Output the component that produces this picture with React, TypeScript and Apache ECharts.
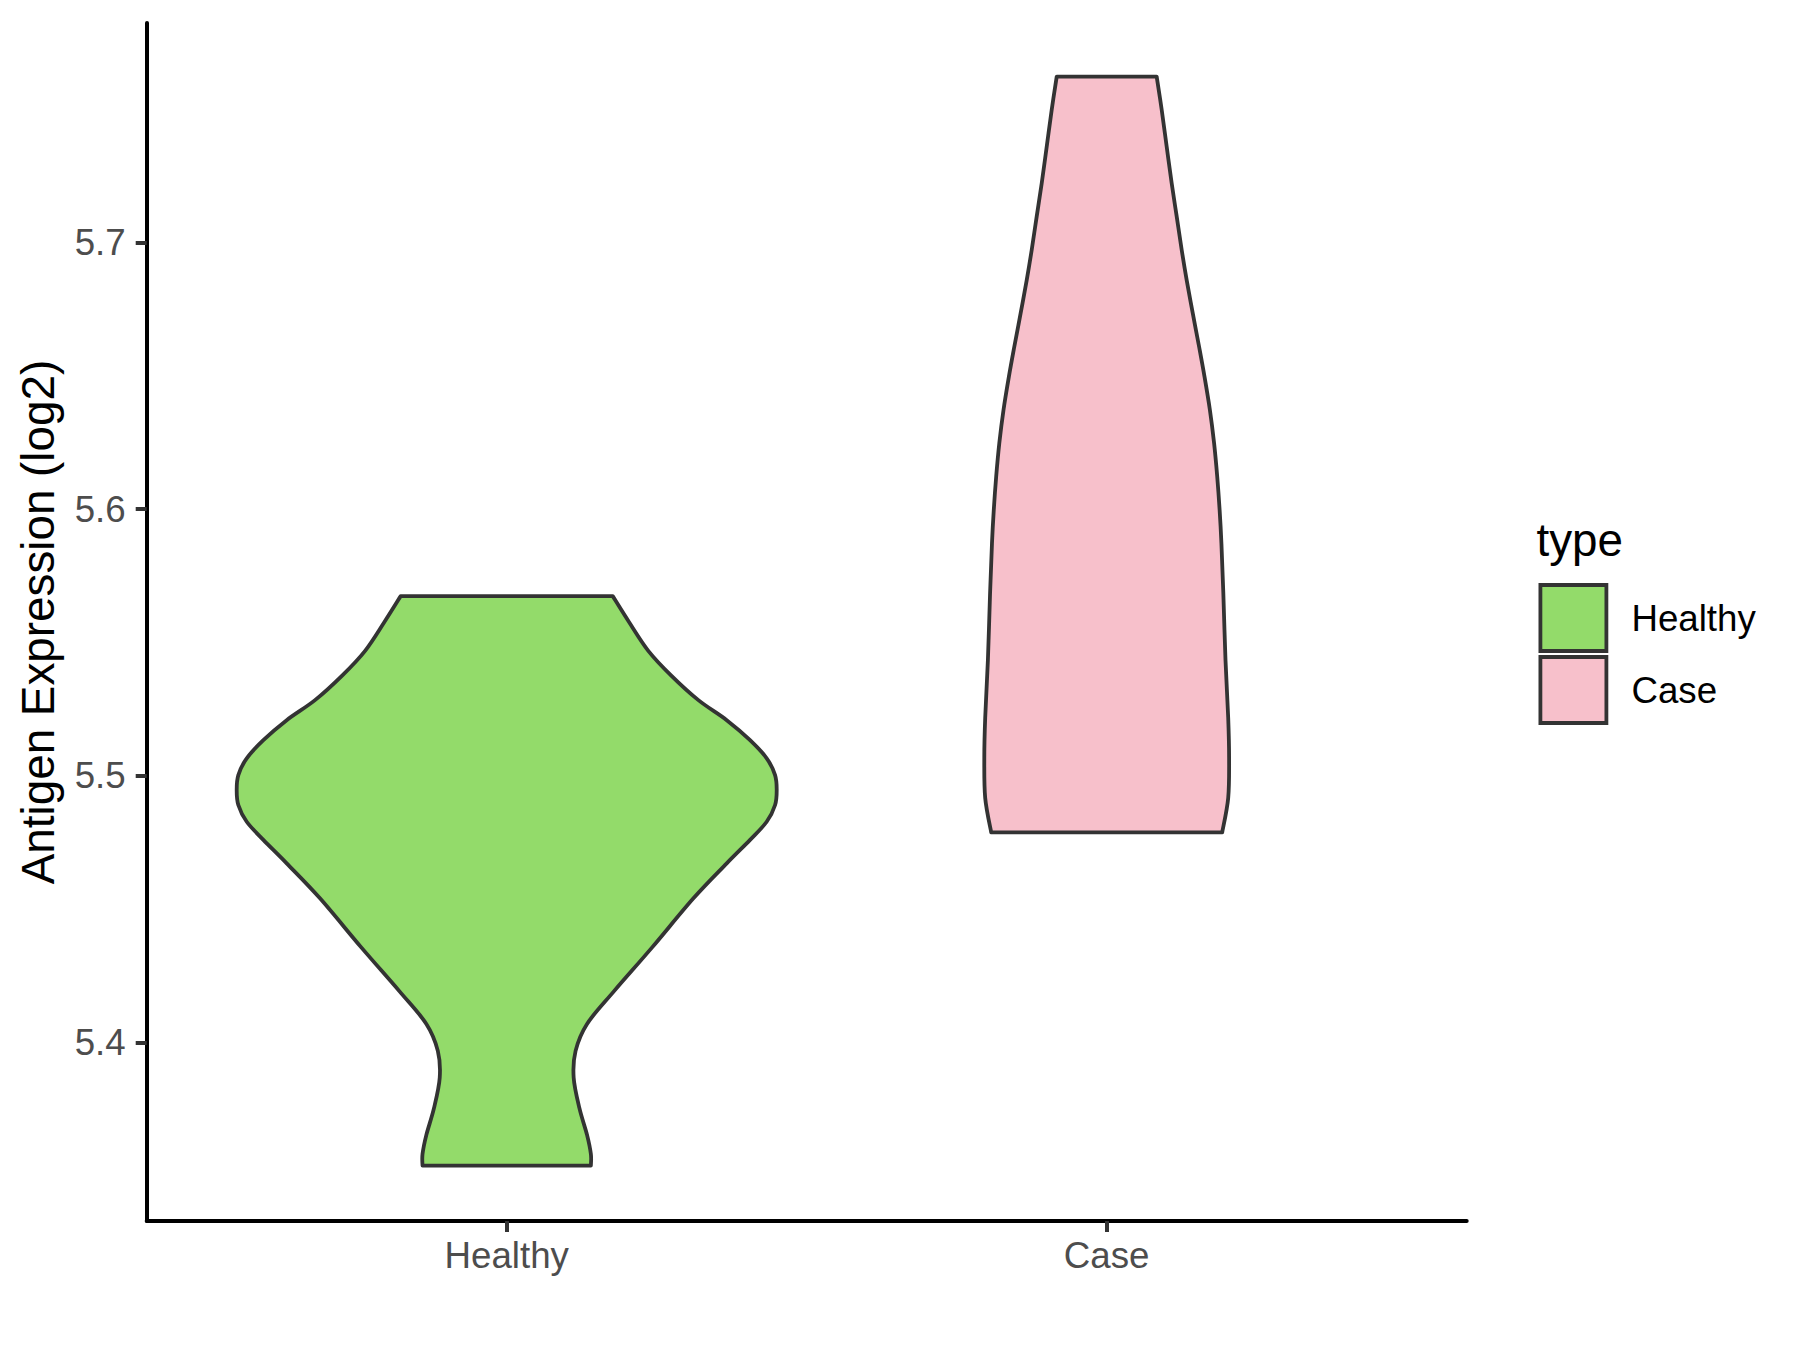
import React, { useEffect, useRef } from "react";
import * as echarts from "echarts";

// ---- data ----
const categories = ["Healthy", "Case"];
const categoryPositions = [1, 2];
const fillColors = ["#93DB6A", "#F7C0CB"];
const yTicks = [5.4, 5.5, 5.6, 5.7];
const yTitle = "Antigen Expression (log2)";
const legendTitle = "type";

// violin outline: y values (top -> bottom) and half-widths (x-axis units)
const healthyY = [
  5.5674, 5.5576, 5.5469, 5.5376, 5.5284, 5.5209, 5.5134, 5.5066, 5.5003, 5.4947,
  5.4891, 5.4828, 5.476, 5.4672, 5.4541, 5.4357, 5.4192, 5.407, 5.3969, 5.3869,
  5.3754, 5.3654, 5.3582, 5.3539,
];
const healthyHalfWidth = [
  0.1767, 0.2041, 0.236, 0.2743, 0.3195, 0.3667, 0.4056, 0.4333, 0.4473, 0.45,
  0.4473, 0.4333, 0.4056, 0.3667, 0.3112, 0.2424, 0.1786, 0.1339, 0.1148, 0.1116,
  0.1212, 0.1339, 0.1403, 0.1403,
];
const caseY = [
  5.7622, 5.7497, 5.7359, 5.7222, 5.7097, 5.6972, 5.6859, 5.6734, 5.6609, 5.6497,
  5.6372, 5.6247, 5.6122, 5.5997, 5.5872, 5.5684, 5.5434, 5.5218, 5.5068, 5.4917,
  5.4788,
];
const caseHalfWidth = [
  0.0833, 0.0917, 0.1, 0.1083, 0.1167, 0.125, 0.1333, 0.1435, 0.154, 0.163,
  0.172, 0.179, 0.1842, 0.1882, 0.1912, 0.1944, 0.198, 0.2025, 0.204, 0.2025,
  0.1925,
];

const FONT = "'Liberation Sans', Arial, Helvetica, sans-serif";

function curve(pts: number[][]): string {
  let d = "";
  for (let i = 0; i < pts.length - 1; i++) {
    const p0 = pts[Math.max(i - 1, 0)];
    const p1 = pts[i];
    const p2 = pts[i + 1];
    const p3 = pts[Math.min(i + 2, pts.length - 1)];
    const c1x = p1[0] + (p2[0] - p0[0]) / 6;
    const c1y = p1[1] + (p2[1] - p0[1]) / 6;
    const c2x = p2[0] - (p3[0] - p1[0]) / 6;
    const c2y = p2[1] - (p3[1] - p1[1]) / 6;
    d += ` C${c1x},${c1y} ${c2x},${c2y} ${p2[0]},${p2[1]}`;
  }
  return d;
}

function makeRenderer(ys: number[], ws: number[], pos: number, color: string) {
  return (_params: any, api: any) => {
    const unit = api.size([1, 0])[0];
    const cx = api.coord([pos, ys[0]])[0];
    const right = ys.map((y, i) => {
      const p = api.coord([pos, y]);
      return [cx + ws[i] * unit, p[1]];
    });
    const left = right.map((p) => [2 * cx - p[0], p[1]]).reverse();
    const pathData =
      `M${left[left.length - 1][0]},${left[left.length - 1][1]} L${right[0][0]},${right[0][1]}` +
      curve(right) +
      ` L${left[0][0]},${left[0][1]}` +
      curve(left) +
      " Z";
    return {
      type: "path",
      shape: { pathData },
      style: { fill: color, stroke: "#333333", lineWidth: 3.8, lineJoin: "round" },
    };
  };
}

export default function App() {
  const ref = useRef<HTMLDivElement>(null);
  useEffect(() => {
    if (!ref.current) return;
    const chart = echarts.init(ref.current, null, { renderer: "svg" });
    const profiles = [
      { ys: healthyY, ws: healthyHalfWidth },
      { ys: caseY, ws: caseHalfWidth },
    ];
    chart.setOption({
      animation: false,
      backgroundColor: "#ffffff",
      textStyle: { fontFamily: FONT },
      grid: { left: 146.7, right: 333.3, top: 23, bottom: 129, containLabel: false },
      xAxis: {
        type: "value",
        min: 0.4,
        max: 2.6,
        splitLine: { show: false },
        axisLine: { show: true, lineStyle: { color: "#000000", width: 4 } },
        axisTick: {
          show: true,
          customValues: categoryPositions,
          length: 11,
          lineStyle: { color: "#333333", width: 4 },
        },
        axisLabel: {
          customValues: categoryPositions,
          formatter: (v: number) => categories[Math.round(v) - 1] ?? "",
          fontSize: 36.7,
          lineHeight: 37,
          color: "#4D4D4D",
          margin: 16,
          fontFamily: FONT,
        },
      },
      yAxis: {
        type: "value",
        min: 5.3331,
        max: 5.7823,
        splitLine: { show: false },
        axisLine: { show: true, lineStyle: { color: "#000000", width: 4 } },
        axisTick: {
          show: true,
          customValues: yTicks,
          length: 11,
          lineStyle: { color: "#333333", width: 4 },
        },
        axisLabel: {
          customValues: yTicks,
          formatter: (v: number) => v.toFixed(1),
          fontSize: 36.7,
          lineHeight: 37,
          color: "#4D4D4D",
          margin: 21,
          fontFamily: FONT,
        },
      },
      legend: {
        orient: "vertical",
        left: 1538.5,
        top: 583.1,
        padding: 0,
        itemWidth: 66,
        itemHeight: 66,
        itemGap: 2.2,
        selectedMode: false,
        icon: "rect",
        textStyle: { fontSize: 36.7, color: "#000000", fontFamily: FONT, padding: [0, 0, 0, 20] },
        data: categories.map((c, i) => ({
          name: c,
          icon: "rect",
          itemStyle: { color: fillColors[i], borderColor: "#333333", borderWidth: 3.8 },
        })),
      },
      graphic: [
        {
          type: "text",
          x: 38.5,
          y: 622,
          rotation: Math.PI / 2,
          style: {
            text: yTitle,
            fontSize: 45.8,
            fill: "#000000",
            fontFamily: FONT,
            align: "center",
            verticalAlign: "middle",
          },
        },
        {
          type: "text",
          x: 1536.5,
          y: 540.3,
          style: {
            text: legendTitle,
            fontSize: 45.8,
            fill: "#000000",
            fontFamily: FONT,
            align: "left",
            verticalAlign: "middle",
          },
        },
      ],
      series: categories.map((c, i) => ({
        name: c,
        type: "custom",
        clip: false,
        itemStyle: { color: fillColors[i], borderColor: "#333333", borderWidth: 3.8 },
        data: [[categoryPositions[i], profiles[i].ys[0]]],
        renderItem: makeRenderer(profiles[i].ys, profiles[i].ws, categoryPositions[i], fillColors[i]),
      })),
    });
    return () => chart.dispose();
  }, []);
  return (
    <div
      ref={ref}
      style={{ position: "absolute", left: 0, top: 0, width: 1800, height: 1350 }}
    />
  );
}
